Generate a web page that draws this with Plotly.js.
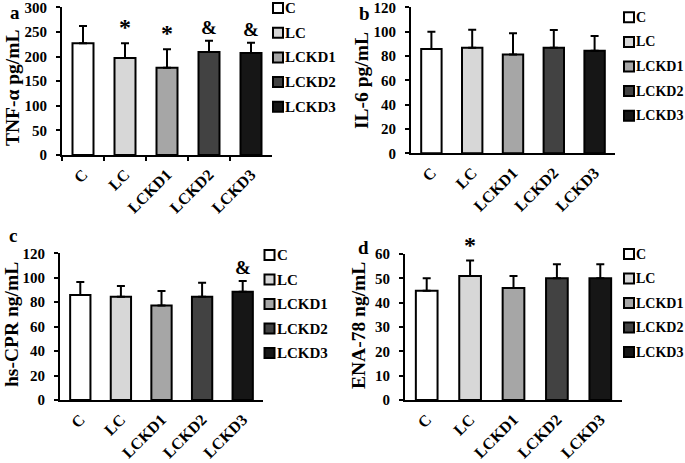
<!DOCTYPE html>
<html>
<head>
<meta charset="utf-8">
<script src="https://cdn.plot.ly/plotly-3.0.1.min.js"></script>
<style>html,body{margin:0;padding:0;background:#fff;}#chart{width:685px;height:463px;}</style>
</head>
<body>
<div id="chart"></div>
<script>
// ---- data ----
const categories = ['C', 'LC', 'LCKD1', 'LCKD2', 'LCKD3'];
const barColors = ['#ffffff', '#d7d7d7', '#a6a6a6', '#424242', '#161616'];

const tnfMean = [227, 197, 177, 209, 207];
const tnfSD   = [35, 30, 38, 23, 21];
const tnfMarks = ['', '*', '*', '&', '&'];

const il6Mean = [85.7, 86.8, 81.3, 86.8, 84.3];
const il6SD   = [14.3, 14.8, 17.3, 14.5, 12.1];
const il6Marks = ['', '', '', '', ''];

const crpMean = [85.9, 84.5, 77.2, 84.5, 88.6];
const crpSD   = [10.6, 8.8, 12.0, 11.5, 8.8];
const crpMarks = ['', '', '', '', '&'];

const enaMean = [44.9, 51.0, 46.0, 50.0, 50.0];
const enaSD   = [5.1, 6.3, 5.0, 5.8, 5.8];
const enaMarks = ['', '*', '', '', ''];

// ---- layout helpers ----
const W = 685, H = 463;
const FONT = 'Liberation Serif, Times New Roman, serif';
const px = v => v / W;
const py = v => 1 - v / H;

const panels = [
  {key: '', mean: tnfMean, sd: tnfSD, marks: tnfMarks, title: 'TNF-α pg/mL', label: 'a',
   xd: [62, 272], yd: [7.3, 155], range: [0, 300], dtick: 50, xticks: true,
   labelPos: [8, 12], titlePos: [12, 88],
   leg: {sq: 278, tx: 283, y0: 8, step: 24.7, size: 15}},
  {key: '2', mean: il6Mean, sd: il6SD, marks: il6Marks, title: 'IL-6 pg/mL', label: 'b',
   xd: [411, 615], yd: [7.3, 153.3], range: [0, 120], dtick: 20, xticks: false,
   labelPos: [357, 13], titlePos: [361, 80],
   leg: {sq: 629, tx: 634, y0: 17.3, step: 24.6, size: 14}},
  {key: '3', mean: crpMean, sd: crpSD, marks: crpMarks, title: 'hs-CPR ng/mL', label: 'c',
   xd: [60, 263], yd: [253.3, 400], range: [0, 120], dtick: 20, xticks: false,
   labelPos: [7, 235], titlePos: [11, 325],
   leg: {sq: 269.5, tx: 275, y0: 255, step: 24.5, size: 15}},
  {key: '4', mean: enaMean, sd: enaSD, marks: enaMarks, title: 'ENA-78 ng/mL', label: 'd',
   xd: [405, 622], yd: [254, 400], range: [0, 60], dtick: 10, xticks: false,
   labelPos: [356, 247], titlePos: [358, 326],
   leg: {sq: 629, tx: 634, y0: 254, step: 24.5, size: 14}}
];

const traces = [];
const layout = {
  width: W, height: H,
  margin: {l: 0, r: 0, t: 0, b: 0},
  paper_bgcolor: '#ffffff', plot_bgcolor: '#ffffff',
  showlegend: false,
  font: {family: FONT, size: 14, color: '#000', weight: 'bold'},
  annotations: [], shapes: []
};

panels.forEach(p => {
  const xa = 'x' + p.key, ya = 'y' + p.key;
  traces.push({
    type: 'bar', x: categories, y: p.mean, xaxis: xa, yaxis: ya,
    width: 0.5,
    marker: {color: barColors, line: {color: '#000', width: 2}},
    error_y: {type: 'data', symmetric: false, array: p.sd, arrayminus: p.sd.map(() => 0),
              color: '#000', thickness: 2, width: 4},
    hoverinfo: 'none'
  });
  layout['xaxis' + p.key] = {
    domain: [px(p.xd[0]), px(p.xd[1])], anchor: ya,
    type: 'category', range: [-0.5, 4.5],
    showline: true, linecolor: '#000', linewidth: 2, mirror: false,
    showgrid: false, zeroline: false,
    ticks: p.xticks ? 'outside' : '', tickson: 'boundaries', ticklen: 4, tickwidth: 2, tickcolor: '#000',
    tickangle: -45, ticklabeloverflow: 'allow', ticklabelstandoff: 2,
    tickfont: {family: FONT, size: 16, color: '#000', weight: 'bold'}
  };
  layout['yaxis' + p.key] = {
    domain: [py(p.yd[1]), py(p.yd[0])], anchor: xa,
    range: p.range, dtick: p.dtick, tick0: 0,
    showline: true, linecolor: '#000', linewidth: 2,
    showgrid: false, zeroline: false,
    ticks: 'outside', ticklen: 4, tickwidth: 2, tickcolor: '#000',
    ticklabeloverflow: 'allow', ticklabelstandoff: 6,
    tickfont: {family: FONT, size: 15, color: '#000', weight: 'bold'}
  };
  // y-axis title (placed as rotated annotation for exact position)
  layout.annotations.push({
    xref: 'paper', yref: 'paper', x: px(p.titlePos[0]), y: py(p.titlePos[1]),
    xanchor: 'center', yanchor: 'middle', textangle: -90, showarrow: false,
    text: p.title, font: {family: FONT, size: 19.5, color: '#000', weight: 'bold'}
  });
  // panel label
  layout.annotations.push({
    xref: 'paper', yref: 'paper', x: px(p.labelPos[0]), y: py(p.labelPos[1]),
    xanchor: 'left', yanchor: 'middle', showarrow: false,
    text: p.label, font: {family: FONT, size: 19, color: '#000', weight: 'bold'}
  });
  // significance marks
  p.marks.forEach((m, i) => {
    if (!m) return;
    layout.annotations.push({
      xref: xa, yref: ya, x: categories[i], y: p.mean[i] + p.sd[i],
      xanchor: 'center', yanchor: 'bottom', yshift: 1, showarrow: false,
      text: m, font: {family: FONT, size: m === '*' ? 24 : 19, color: '#000', weight: 'bold'}
    });
  });
  // legend
  categories.forEach((c, i) => {
    const yy = p.leg.y0 + i * p.leg.step;
    layout.shapes.push({
      type: 'rect', xref: 'paper', yref: 'paper',
      xsizemode: 'pixel', ysizemode: 'pixel',
      xanchor: px(p.leg.sq), yanchor: py(yy),
      x0: -5, x1: 5, y0: -5, y1: 5,
      fillcolor: barColors[i], line: {color: '#000', width: 2}
    });
    layout.annotations.push({
      xref: 'paper', yref: 'paper', x: px(p.leg.tx), y: py(yy),
      xanchor: 'left', yanchor: 'middle', showarrow: false,
      text: c, font: {family: FONT, size: p.leg.size, color: '#000', weight: 'bold'}
    });
  });
});

Plotly.newPlot('chart', traces, layout, {displayModeBar: false, staticPlot: true});
</script>
</body>
</html>
